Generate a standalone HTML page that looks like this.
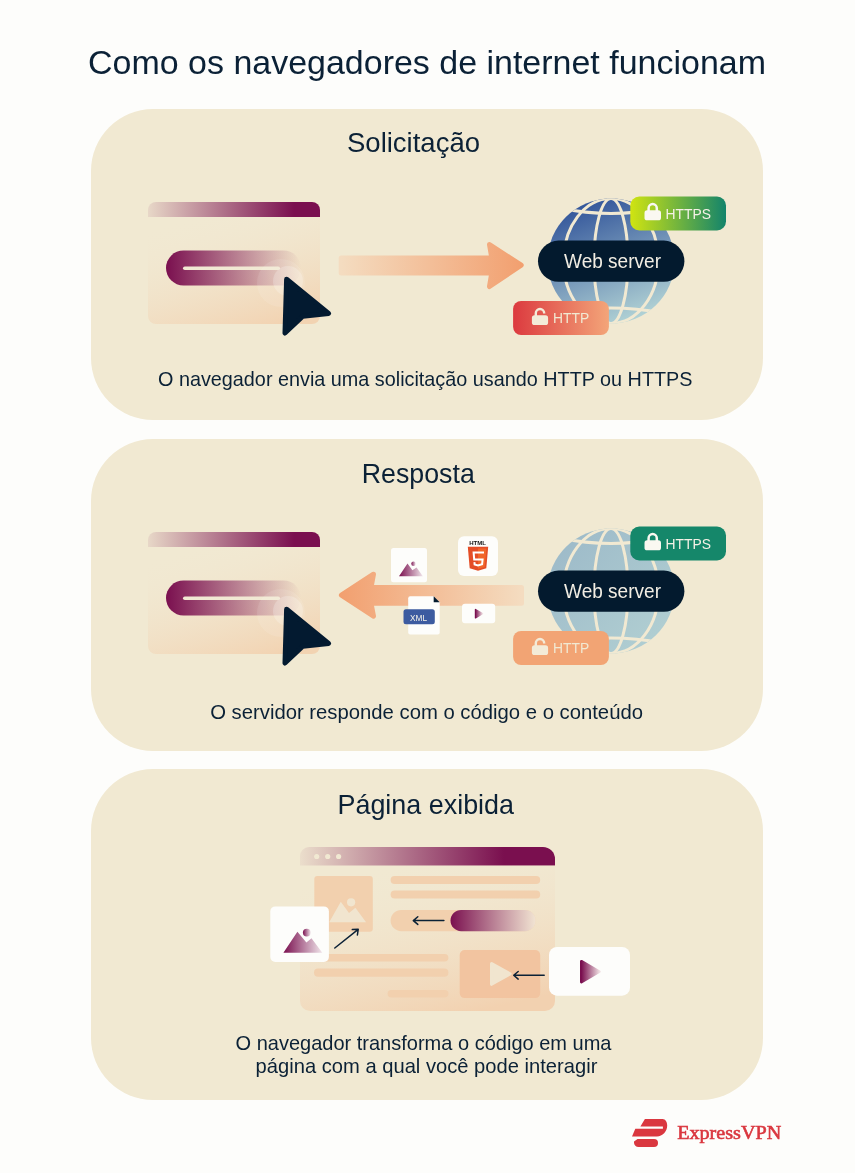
<!DOCTYPE html>
<html><head><meta charset="utf-8">
<style>
html,body{margin:0;padding:0;background:#fdfdfb;}
svg{display:block;will-change:transform;}
text{font-family:"Liberation Sans",sans-serif;}
</style></head>
<body>
<svg width="855" height="1173" viewBox="0 0 855 1173">
<defs>
  <linearGradient id="gBar" x1="0" x2="1" y1="0" y2="0">
    <stop offset="0" stop-color="#7a0f4f" stop-opacity="0.08"/>
    <stop offset="0.85" stop-color="#7a0f4f" stop-opacity="1"/>
    <stop offset="1" stop-color="#7a0f4f"/>
  </linearGradient>
  <linearGradient id="gBody" x1="0.25" x2="0.75" y1="0" y2="1">
    <stop offset="0" stop-color="#f1e8d3" stop-opacity="0"/>
    <stop offset="1" stop-color="#f2d3b2"/>
  </linearGradient>
  <linearGradient id="gPill" x1="0" x2="1" y1="0" y2="0">
    <stop offset="0" stop-color="#7a0f4f"/>
    <stop offset="1" stop-color="#7a0f4f" stop-opacity="0"/>
  </linearGradient>
  <linearGradient id="gArrR" x1="0" x2="1" y1="0" y2="0">
    <stop offset="0" stop-color="#f4dcc0"/>
    <stop offset="1" stop-color="#f2a070"/>
  </linearGradient>
  <linearGradient id="gArrL" x1="0" x2="1" y1="0" y2="0">
    <stop offset="0" stop-color="#f2a070"/>
    <stop offset="1" stop-color="#f4dcc0"/>
  </linearGradient>
  <linearGradient id="gGlobe1" x1="0.3" x2="0.7" y1="0" y2="1">
    <stop offset="0" stop-color="#2f5299"/>
    <stop offset="1" stop-color="#b6d7d7"/>
  </linearGradient>
  <linearGradient id="gGlobe2" x1="0" x2="1" y1="0" y2="1">
    <stop offset="0" stop-color="#9bb8c8"/>
    <stop offset="1" stop-color="#b3d1d3"/>
  </linearGradient>
  <linearGradient id="gHttps1" x1="0" x2="1" y1="0" y2="0">
    <stop offset="0" stop-color="#d0e411"/>
    <stop offset="1" stop-color="#13846b"/>
  </linearGradient>
  <linearGradient id="gHttp1" x1="0" x2="1" y1="0" y2="0">
    <stop offset="0" stop-color="#dc3a3f"/>
    <stop offset="1" stop-color="#f3a579"/>
  </linearGradient>
  <linearGradient id="gPurp" x1="0" x2="1" y1="0" y2="0">
    <stop offset="0" stop-color="#7a0f4f"/>
    <stop offset="1" stop-color="#7a0f4f" stop-opacity="0.1"/>
  </linearGradient>
  <linearGradient id="gBar3" x1="0" x2="1" y1="0" y2="0">
    <stop offset="0" stop-color="#7a0f4f" stop-opacity="0.05"/>
    <stop offset="0.8" stop-color="#7a0f4f" stop-opacity="1"/>
    <stop offset="1" stop-color="#7a0f4f"/>
  </linearGradient>
  <linearGradient id="gBody3" x1="0.3" x2="0.7" y1="0" y2="1">
    <stop offset="0" stop-color="#f1e8d3" stop-opacity="0"/>
    <stop offset="1" stop-color="#f2d1b0"/>
  </linearGradient>

  <g id="globeLines" fill="none" stroke="#f1e9d2" stroke-width="3">
    <ellipse cx="611" cy="0" rx="47.5" ry="62.5"/>
    <ellipse cx="611" cy="0" rx="17" ry="62.5"/>
    <path d="M560 -53 Q611 -42 662 -53"/>
    <path d="M560 52 Q611 42 662 52"/>
    <path d="M545 0 H677"/>
  </g>
  <clipPath id="cGlobe"><ellipse cx="611" cy="0" rx="63.5" ry="62.5"/></clipPath>

  <g id="browser">
    <path d="M148 210 a8 8 0 0 1 8 -8 h156 a8 8 0 0 1 8 8 v7 h-172z" fill="url(#gBar)"/>
    <path d="M148 217 h172 v99 a8 8 0 0 1 -8 8 h-156 a8 8 0 0 1 -8 -8z" fill="url(#gBody)"/>
    <path d="M183.5 250.5 h100 a17.5 17.5 0 0 1 0 35 h-100 a17.5 17.5 0 0 1 0 -35z" fill="url(#gPill)"/>
    <rect x="183" y="266.5" width="97" height="3.5" rx="1.75" fill="#f1e9d3"/>
    <circle cx="281" cy="283" r="24" fill="#ffffff" fill-opacity="0.1"/>
    <circle cx="288" cy="281" r="15" fill="#ffffff" fill-opacity="0.22"/>
    <path d="M286.6 279.3 L328.6 313.5 L302.8 316.3 L285 333 Z" fill="#031a30" stroke="#031a30" stroke-width="5" stroke-linejoin="round"/>
  </g>

  <g id="lockClosed">
    <path d="M-4.1 1 v-3.1 a4.1 4.1 0 0 1 8.2 0 V1" fill="none" stroke="#faf8f1" stroke-width="2.5"/>
    <rect x="-8.2" y="0" width="16.5" height="10" rx="2.6" fill="#faf8f1"/>
  </g>
  <g id="lockOpen">
    <path d="M-4.2 6 v-3.1 a4.2 4.2 0 0 1 8.4 0 v0.3" fill="none" stroke="#f3ebd8" stroke-width="2.4"/>
    <rect x="-8.1" y="5" width="16.2" height="9.8" rx="2.6" fill="#f3ebd8"/>
  </g>
  <linearGradient id="gPill3" x1="0" x2="1" y1="0" y2="0">
    <stop offset="0" stop-color="#7a0f4f"/>
    <stop offset="1" stop-color="#f1e6d6" stop-opacity="0.9"/>
  </linearGradient>
  <linearGradient id="gPurpW" x1="0" x2="1" y1="0" y2="0">
    <stop offset="0" stop-color="#7a0f4f"/>
    <stop offset="1" stop-color="#eedde0"/>
  </linearGradient>
</defs>

<!-- Title -->
<text x="88" y="73.5" font-size="33" fill="#0b2136" textLength="678" lengthAdjust="spacingAndGlyphs">Como os navegadores de internet funcionam</text>

<!-- Panels -->
<rect x="91" y="109" width="672" height="311" rx="62" fill="#f1e9d2"/>
<rect x="91" y="439" width="672" height="312" rx="62" fill="#f1e9d2"/>
<rect x="91" y="769" width="672" height="331" rx="62" fill="#f1e9d2"/>

<!-- ============ Panel 1 ============ -->
<text x="347" y="151.6" font-size="27.5" fill="#0b2136" textLength="133" lengthAdjust="spacingAndGlyphs">Solicitação</text>
<text x="158" y="386" font-size="20.3" fill="#0b2136" textLength="534.5" lengthAdjust="spacingAndGlyphs">O navegador envia uma solicitação usando HTTP ou HTTPS</text>

<use href="#browser"/>

<path d="M341.2 257.9 H491.8 L489.5 244.5 L521.2 265.2 L489.5 286.5 L491.8 272.9 H341.2 Z" fill="url(#gArrR)" stroke="url(#gArrR)" stroke-width="5" stroke-linejoin="round"/>

<g transform="translate(0 261)">
  <ellipse cx="611" cy="0" rx="63.5" ry="62.5" fill="url(#gGlobe1)"/>
  <g clip-path="url(#cGlobe)"><use href="#globeLines"/></g>
</g>
<rect x="538" y="240.6" width="146.4" height="41.2" rx="20.6" fill="#031a2e"/>
<text x="564" y="267.8" font-size="20.3" fill="#f2eee4" textLength="97" lengthAdjust="spacingAndGlyphs">Web server</text>
<rect x="630.3" y="196.5" width="95.7" height="34" rx="9" fill="url(#gHttps1)"/>
<use href="#lockClosed" x="652.7" y="210.3"/>
<text x="665.6" y="218.5" font-size="14.8" fill="#f5f1e6" textLength="45.5" lengthAdjust="spacingAndGlyphs">HTTPS</text>
<rect x="513.1" y="301" width="95.8" height="34" rx="8" fill="url(#gHttp1)"/>
<use href="#lockOpen" x="540" y="310.3"/>
<text x="553.1" y="323" font-size="14.3" fill="#f1e9d2" textLength="36.2" lengthAdjust="spacingAndGlyphs">HTTP</text>

<!-- ============ Panel 2 ============ -->
<text x="361.8" y="483.3" font-size="27.5" fill="#0b2136" textLength="113" lengthAdjust="spacingAndGlyphs">Resposta</text>
<text x="210.2" y="718.9" font-size="20.3" fill="#0b2136" textLength="432.8" lengthAdjust="spacingAndGlyphs">O servidor responde com o código e o conteúdo</text>

<use href="#browser" y="330"/>

<path d="M521.5 587.5 H371 L373.5 574.2 L341.4 595.2 L373.5 616.2 L371 603.2 H521.5 Z" fill="url(#gArrL)" stroke="url(#gArrL)" stroke-width="5" stroke-linejoin="round"/>

<!-- image card -->
<rect x="391" y="548" width="36" height="34.2" rx="2.5" fill="#fdfdfb"/>
<path d="M399 576.3 L407.5 563.4 L412.4 570.2 L416.6 567.4 L422.9 576.3 Z" fill="url(#gPurp)"/>
<circle cx="413.5" cy="563.7" r="2.2" fill="url(#gPurp)"/>
<!-- html card -->
<rect x="458" y="536.3" width="40" height="39.7" rx="6" fill="#fdfdfb"/>
<text x="469.2" y="544.8" font-size="4.6" font-weight="bold" fill="#111" textLength="16.8" lengthAdjust="spacingAndGlyphs">HTML</text>
<path d="M467.8 546.8 H488.2 L486.3 568.3 L478 570.7 L469.7 568.3 Z" fill="#e44d26"/>
<path d="M478 548.5 H486.4 L484.7 567 L478 568.9 Z" fill="#f16529"/>
<path d="M484 552.4 H473.6 L474.2 559.6 H482.6 L482.1 564.2 L478 565.5 L474.6 564.4 L474.4 562.2" fill="none" stroke="#fff" stroke-width="2"/>
<!-- xml doc -->
<path d="M410.2 596.2 H433.7 L439.7 602.2 V632.6 a2 2 0 0 1 -2 2 H410.2 a2 2 0 0 1 -2 -2 V598.2 a2 2 0 0 1 2 -2z" fill="#fdfdfb"/>
<path d="M433.7 596.2 L439.7 602.2 H433.7 Z" fill="#031a2e"/>
<rect x="403.5" y="609.3" width="31.3" height="15" rx="2.5" fill="#3c5ba0"/>
<text x="410" y="620.5" font-size="9" fill="#f5f3ea" textLength="17" lengthAdjust="spacingAndGlyphs">XML</text>
<!-- video card -->
<rect x="462" y="603.7" width="33.2" height="19.6" rx="3" fill="#fdfdfb"/>
<path d="M475.5 609.5 L482.5 613.6 L475.5 617.8 Z" fill="url(#gPurpW)" stroke="url(#gPurpW)" stroke-width="1.4" stroke-linejoin="round"/>

<g transform="translate(0 591)">
  <ellipse cx="611" cy="0" rx="63.5" ry="62.5" fill="url(#gGlobe2)"/>
  <g clip-path="url(#cGlobe)"><use href="#globeLines"/></g>
</g>
<rect x="538" y="570.6" width="146.4" height="41.2" rx="20.6" fill="#031a2e"/>
<text x="564" y="597.8" font-size="20.3" fill="#f2eee4" textLength="97" lengthAdjust="spacingAndGlyphs">Web server</text>
<rect x="630.3" y="526.5" width="95.7" height="34" rx="9" fill="#15876a"/>
<use href="#lockClosed" x="652.7" y="540.3"/>
<text x="665.6" y="548.5" font-size="14.8" fill="#f5f1e6" textLength="45.5" lengthAdjust="spacingAndGlyphs">HTTPS</text>
<rect x="513.1" y="631" width="95.8" height="34" rx="8" fill="#f2a474"/>
<use href="#lockOpen" x="540" y="640.3"/>
<text x="553.1" y="653" font-size="14.3" fill="#f1e9d2" textLength="36.2" lengthAdjust="spacingAndGlyphs">HTTP</text>

<!-- ============ Panel 3 ============ -->
<text x="337.5" y="814.1" font-size="27.5" fill="#0b2136" textLength="176.5" lengthAdjust="spacingAndGlyphs">Página exibida</text>
<text x="235.5" y="1050" font-size="20.3" fill="#0b2136" textLength="376" lengthAdjust="spacingAndGlyphs">O navegador transforma o código em uma</text>
<text x="255.6" y="1073" font-size="20.3" fill="#0b2136" textLength="341.8" lengthAdjust="spacingAndGlyphs">página com a qual você pode interagir</text>

<path d="M300 856 a9 9 0 0 1 9 -9 h234 a12 12 0 0 1 12 12 v6.5 h-255z" fill="url(#gBar3)"/>
<circle cx="316.7" cy="856.5" r="2.6" fill="#f1e9d2"/>
<circle cx="327.7" cy="856.5" r="2.6" fill="#f1e9d2"/>
<circle cx="338.6" cy="856.5" r="2.6" fill="#f1e9d2"/>
<path d="M300 865.5 h255 v135.5 a10 10 0 0 1 -10 10 h-235 a10 10 0 0 1 -10 -10z" fill="url(#gBody3)"/>
<rect x="314.3" y="876.1" width="58.5" height="55.6" rx="3" fill="#f2d0ae"/>
<path d="M329.2 922.3 L340.8 901.8 L349 913 L355.4 907.7 L366.1 922.3 Z" fill="#f1e5cf"/>
<circle cx="351.1" cy="902.3" r="4.1" fill="#f1e5cf"/>
<rect x="390.6" y="875.9" width="149.6" height="8.2" rx="4.1" fill="#f2d0ae"/>
<rect x="390.6" y="890.5" width="149.6" height="7.9" rx="3.95" fill="#f2d0ae"/>
<rect x="390.6" y="909.9" width="145.1" height="21.3" rx="10.65" fill="#f2d0ae"/>
<rect x="450.5" y="909.9" width="85.2" height="21.3" rx="10.65" fill="url(#gPill3)"/>
<rect x="314" y="954" width="134.4" height="7.6" rx="3.8" fill="#f2d0ae"/>
<rect x="314" y="968.6" width="134.4" height="8.2" rx="4.1" fill="#f2d0ae"/>
<rect x="387.6" y="990" width="60.8" height="7.5" rx="3.75" fill="#f2d0ae"/>
<rect x="459.7" y="950" width="80.5" height="48.1" rx="5" fill="#f2c4a0"/>
<path d="M491.6 963.6 L510 973.9 L491.6 984.2 Z" fill="#f1e5cf" stroke="#f1e5cf" stroke-width="3.2" stroke-linejoin="round"/>

<g fill="none" stroke="#0b2136" stroke-width="1.5" stroke-linecap="round" stroke-linejoin="round">
  <path d="M443.9 920.6 H413.3 M417.8 916.8 L413.3 920.6 L417.8 924.4"/>
  <path d="M544.2 975.3 H513.7 M518.2 971.5 L513.7 975.3 L518.2 979.1"/>
  <path d="M334.8 948 L358.2 929.3 M352.3 929.6 L358.2 929.3 L357.4 935"/>
</g>

<rect x="270.3" y="906.4" width="58.6" height="55.6" rx="5" fill="#fdfdfb"/>
<path d="M283.4 952.8 L297.4 931.7 L306.4 942.5 L311.5 938.2 L322.3 952.8 Z" fill="url(#gPurp)"/>
<circle cx="306.8" cy="932.6" r="3.9" fill="url(#gPurp)"/>

<rect x="549" y="947" width="81" height="48.7" rx="8" fill="#fdfdfb"/>
<path d="M581.4 961.3 L599.3 971.6 L581.4 982 Z" fill="url(#gPurpW)" stroke="url(#gPurpW)" stroke-width="2.8" stroke-linejoin="round"/>

<!-- Logo -->
<path d="M644.9 1119 H662.5 C665.6 1119 667.2 1122 667.2 1125.5 C667.2 1131.5 662.5 1136.4 657 1136.4 H632 L635.3 1128.7 H662.9 V1126.4 H640.4 Z" fill="#da373f"/>
<path d="M637.5 1139 H654 a4 4 0 0 1 0 8 H638.5 a4.5 4.5 0 0 1 -4.5 -4.5 v-1 z" fill="#da373f"/>
<text x="677.2" y="1139.1" font-size="19" fill="#da373f" style="font-family:'Liberation Serif',serif" stroke="#da373f" stroke-width="0.6" textLength="104" lengthAdjust="spacingAndGlyphs">ExpressVPN</text>
</svg>
</body></html>
